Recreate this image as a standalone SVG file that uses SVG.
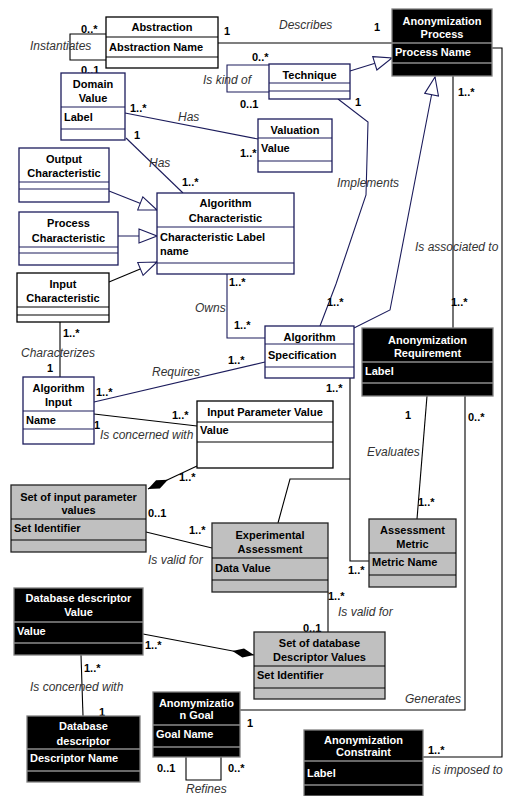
<svg xmlns="http://www.w3.org/2000/svg" width="505" height="796" viewBox="0 0 505 796">
<style>
.bn{fill:#fff;stroke:#1c1c5c;stroke-width:1.3}
.bk{fill:#fff;stroke:#000;stroke-width:1.3}
.bd{fill:#000;stroke:#808080;stroke-width:1.3}
.bg{fill:#c0c0c0;stroke:#222;stroke-width:1.3}
.sn{stroke:#1c1c5c;stroke-width:1.2}
.sk{stroke:#000;stroke-width:1.2}
.sd{stroke:#8a8a8a;stroke-width:1.5}
text{font-family:"Liberation Sans",Arial,sans-serif}
.t{font-size:11px;font-weight:bold;text-anchor:middle;fill:#000}
.a{font-size:11px;font-weight:bold;fill:#000}
.w{fill:#fff}
.l{font-size:12px;font-style:italic;fill:#333}
.m{font-size:11px;font-weight:bold;fill:#000}
.cn{fill:none;stroke:#1c1c5c;stroke-width:1.1}
.ck{fill:none;stroke:#000;stroke-width:1.1}
</style>
<defs>
<marker id="gen" viewBox="0 0 20 16" refX="19" refY="8" markerWidth="20" markerHeight="16" markerUnits="userSpaceOnUse" orient="auto">
<path d="M1,1 L19,8 L1,15 Z" fill="#fff" stroke="#1c1c5c" stroke-width="1.1"/>
</marker>
<marker id="dia" viewBox="0 0 24 10" refX="23" refY="5" markerWidth="24" markerHeight="10" markerUnits="userSpaceOnUse" orient="auto">
<path d="M1,5 L12,0.5 L23,5 L12,9.5 Z" fill="#000"/>
</marker>
</defs>
<rect width="505" height="796" fill="#fff"/>

<g id="connectors">
<path class="ck" d="M218,43 H392"/>
<path class="ck" d="M106,34 H70 V60 H106"/>
<path class="cn" d="M269,65 H227 V92 H269"/>
<path class="cn" d="M350,71 L392,58" marker-end="url(#gen)"/>
<path class="cn" d="M338,99 L368,122 L366,195 L336,284 L320,326"/>
<path class="cn" d="M354,328 L390,310 L435,77" marker-end="url(#gen)"/>
<path class="ck" d="M453,76 V328"/>
<path class="ck" d="M492,48 H502 V757 H423"/>
<path class="cn" d="M109,191 L157,210" marker-end="url(#gen)"/>
<path class="cn" d="M118,236 H157" marker-end="url(#gen)"/>
<path class="ck" d="M109,282 L157,262" marker-end="url(#gen)"/>
<path class="cn" d="M125,113 L258,139"/>
<path class="cn" d="M126,138 L183,193"/>
<path class="cn" d="M227,274 V338 H265"/>
<path class="ck" d="M60,322 V377"/>
<path class="cn" d="M94,402 L265,362"/>
<path class="ck" d="M94,414 L197,426"/>
<path class="ck" d="M197,466 L148,489" marker-end="url(#dia)"/>
<path class="ck" d="M146,532 L212,548"/>
<path class="ck" d="M350,378 V561 H369"/>
<path class="ck" d="M278,523 L290,479 H350"/>
<path class="ck" d="M427,396 L417,519"/>
<path class="ck" d="M465,396 V710 H240"/>
<path class="ck" d="M328,592 V632"/>
<path class="ck" d="M143,634 L254,655" marker-end="url(#dia)"/>
<path class="ck" d="M81,655 L83,716"/>
<path class="ck" d="M186,757 V780 H221 V757"/>

<text class="l" x="279" y="29">Describes</text>
<text class="m" x="224" y="35">1</text>
<text class="m" x="374" y="31">1</text>
<text class="l" x="30" y="50">Instantiates</text>
<text class="m" x="81" y="33">0..*</text>
<text class="m" x="81" y="74">0..1</text>
<text class="l" x="203" y="84">Is kind of</text>
<text class="m" x="252" y="61">0..*</text>
<text class="m" x="240" y="108">0..1</text>
<text class="m" x="355" y="106">1</text>
<text class="l" x="337" y="187">Implements</text>
<text class="m" x="327" y="306">1..*</text>
<text class="m" x="458" y="96">1..*</text>
<text class="l" x="415" y="251">Is associated to</text>
<text class="m" x="451" y="306">1..*</text>
<text class="l" x="178" y="121">Has</text>
<text class="m" x="130" y="112">1..*</text>
<text class="m" x="240" y="157">1..*</text>
<text class="l" x="149" y="167">Has</text>
<text class="m" x="134" y="139">1</text>
<text class="m" x="182" y="186">1..*</text>
<text class="l" x="195" y="312">Owns</text>
<text class="m" x="229" y="286">1..*</text>
<text class="m" x="234" y="329">1..*</text>
<text class="l" x="21" y="357">Characterizes</text>
<text class="m" x="63" y="337">1..*</text>
<text class="m" x="47" y="372">1</text>
<text class="l" x="152" y="376">Requires</text>
<text class="m" x="96" y="396">1..*</text>
<text class="m" x="228" y="364">1..*</text>
<text class="l" x="100" y="439">Is concerned with</text>
<text class="m" x="94" y="429">1</text>
<text class="m" x="172" y="419">1..*</text>
<text class="m" x="179" y="481">1..*</text>
<text class="m" x="148" y="517">0..1</text>
<text class="m" x="189" y="534">1..*</text>
<text class="l" x="148" y="564">Is valid for</text>
<text class="m" x="326" y="392">1..*</text>
<text class="m" x="348" y="574">1..*</text>
<text class="m" x="405" y="419">1</text>
<text class="m" x="418" y="506">1..*</text>
<text class="l" x="367" y="456">Evaluates</text>
<text class="m" x="468" y="421">0..*</text>
<text class="l" x="405" y="703">Generates</text>
<text class="m" x="247" y="727">1</text>
<text class="m" x="328" y="600">1..*</text>
<text class="m" x="303" y="632">0..1</text>
<text class="l" x="338" y="616">Is valid for</text>
<text class="m" x="145" y="649">1..*</text>
<text class="m" x="84" y="672">1..*</text>
<text class="m" x="99" y="716">1</text>
<text class="l" x="30" y="691">Is concerned with</text>
<text class="m" x="428" y="754">1..*</text>
<text class="l" x="432" y="774">is imposed to</text>
<text class="m" x="157" y="772">0..1</text>
<text class="m" x="228" y="772">0..*</text>
<text class="l" x="186" y="793">Refines</text>
</g>

<g id="abstraction">
<rect class="bk" x="106" y="17" width="112" height="51"/>
<path class="sk" d="M106,37 H218 M106,57 H218"/>
<text class="t" x="162" y="31">Abstraction</text>
<text class="a" x="109" y="51">Abstraction Name</text>
</g>

<g id="domain-value">
<rect class="bn" x="61" y="73" width="64" height="67"/>
<path class="sn" d="M61,107 H125 M61,129 H125"/>
<text class="t" x="93" y="88">Domain</text>
<text class="t" x="93" y="102">Value</text>
<text class="a" x="64" y="121">Label</text>
</g>

<g id="output-characteristic">
<rect class="bn" x="19" y="148" width="90" height="54"/>
<path class="sn" d="M19,182 H109 M19,189 H109"/>
<text class="t" x="64" y="163">Output</text>
<text class="t" x="64" y="177">Characteristic</text>
</g>

<g id="process-characteristic">
<rect class="bn" x="19" y="212" width="99" height="53"/>
<path class="sn" d="M19,247 H118 M19,253 H118"/>
<text class="t" x="68.5" y="227">Process</text>
<text class="t" x="68.5" y="242">Characteristic</text>
</g>

<g id="input-characteristic">
<rect class="bk" x="17" y="273" width="92" height="49"/>
<path class="sk" d="M17,307 H109 M17,315 H109"/>
<text class="t" x="63" y="288">Input</text>
<text class="t" x="63" y="302">Characteristic</text>
</g>

<g id="algorithm-characteristic">
<rect class="bn" x="157" y="193" width="137" height="81"/>
<path class="sn" d="M157,227 H294 M157,263 H294"/>
<text class="t" x="225.5" y="207">Algorithm</text>
<text class="t" x="225.5" y="222">Characteristic</text>
<text class="a" x="160" y="241">Characteristic Label</text>
<text class="a" x="160" y="255">name</text>
</g>

<g id="valuation">
<rect class="bn" x="258" y="119" width="74" height="53"/>
<path class="sn" d="M258,138 H332 M258,161 H332"/>
<text class="t" x="295" y="134">Valuation</text>
<text class="a" x="261" y="152">Value</text>
</g>

<g id="technique">
<rect class="bn" x="269" y="64" width="81" height="35"/>
<path class="sn" d="M269,83 H350 M269,91 H350"/>
<text class="t" x="309.5" y="79">Technique</text>
</g>

<g id="anonymization-process">
<rect class="bd" x="392" y="9" width="100" height="67"/>
<path class="sd" d="M392,43 H492 M392,63 H492"/>
<text class="t w" x="442" y="25">Anonymization</text>
<text class="t w" x="442" y="38">Process</text>
<text class="a w" x="395" y="56">Process Name</text>
</g>

<g id="algorithm">
<rect class="bn" x="265" y="326" width="89" height="52"/>
<path class="sn" d="M265,344 H354 M265,367 H354"/>
<text class="t" x="309.5" y="341">Algorithm</text>
<text class="a" x="268" y="359">Specification</text>
</g>

<g id="anonymization-requirement">
<rect class="bd" x="362" y="328" width="131" height="68"/>
<path class="sd" d="M362,362 H493 M362,383 H493"/>
<text class="t w" x="427.5" y="344">Anonymization</text>
<text class="t w" x="427.5" y="357">Requirement</text>
<text class="a w" x="365" y="375">Label</text>
</g>

<g id="algorithm-input">
<rect class="bn" x="23" y="377" width="71" height="67"/>
<path class="sn" d="M23,411 H94 M23,429 H94"/>
<text class="t" x="58.5" y="392">Algorithm</text>
<text class="t" x="58.5" y="406">Input</text>
<text class="a" x="26" y="424">Name</text>
</g>

<g id="input-parameter-value">
<rect class="bk" x="197" y="401" width="136" height="67"/>
<path class="sk" d="M197,422 H333 M197,442 H333"/>
<text class="t" x="265" y="416">Input Parameter Value</text>
<text class="a" x="200" y="434">Value</text>
</g>

<g id="set-of-input-parameter-values">
<rect class="bg" x="11" y="485" width="135" height="67"/>
<path class="sk" d="M11,519 H146 M11,540 H146"/>
<text class="t" x="78.5" y="501">Set of input parameter</text>
<text class="t" x="78.5" y="514">values</text>
<text class="a" x="14" y="532">Set Identifier</text>
</g>

<g id="experimental-assessment">
<rect class="bg" x="212" y="523" width="116" height="69"/>
<path class="sk" d="M212,558 H328 M212,580 H328"/>
<text class="t" x="270" y="539">Experimental</text>
<text class="t" x="270" y="553">Assessment</text>
<text class="a" x="215" y="572">Data Value</text>
</g>

<g id="assessment-metric">
<rect class="bg" x="369" y="519" width="87" height="68"/>
<path class="sk" d="M369,553 H456 M369,575 H456"/>
<text class="t" x="412.5" y="534">Assessment</text>
<text class="t" x="412.5" y="548">Metric</text>
<text class="a" x="372" y="566">Metric Name</text>
</g>

<g id="database-descriptor-value">
<rect class="bd" x="14" y="588" width="129" height="67"/>
<path class="sd" d="M14,622 H143 M14,643 H143"/>
<text class="t w" x="78.5" y="602">Database descriptor</text>
<text class="t w" x="78.5" y="616">Value</text>
<text class="a w" x="17" y="635">Value</text>
</g>

<g id="database-descriptor">
<rect class="bd" x="27" y="716" width="113" height="66"/>
<path class="sd" d="M27,749 H140 M27,771 H140"/>
<text class="t w" x="83.5" y="730">Database</text>
<text class="t w" x="83.5" y="745">descriptor</text>
<text class="a w" x="30" y="762">Descriptor Name</text>
</g>

<g id="set-of-database-descriptor-values">
<rect class="bg" x="254" y="632" width="131" height="67"/>
<path class="sk" d="M254,666 H385 M254,688 H385"/>
<text class="t" x="319.5" y="647">Set of database</text>
<text class="t" x="319.5" y="661">Descriptor Values</text>
<text class="a" x="257" y="679">Set Identifier</text>
</g>

<g id="anonymization-goal">
<rect class="bd" x="153" y="692" width="87" height="65"/>
<path class="sd" d="M153,725 H240 M153,747 H240"/>
<text class="t w" x="196.5" y="707">Anomymizatio</text>
<text class="t w" x="196.5" y="719">n Goal</text>
<text class="a w" x="156" y="738">Goal Name</text>
</g>

<g id="anonymization-constraint">
<rect class="bd" x="304" y="730" width="119" height="66"/>
<path class="sd" d="M304,761 H423 M304,785 H423"/>
<text class="t w" x="363.5" y="744">Anonymization</text>
<text class="t w" x="363.5" y="756">Constraint</text>
<text class="a w" x="307" y="777">Label</text>
</g>
</svg>
